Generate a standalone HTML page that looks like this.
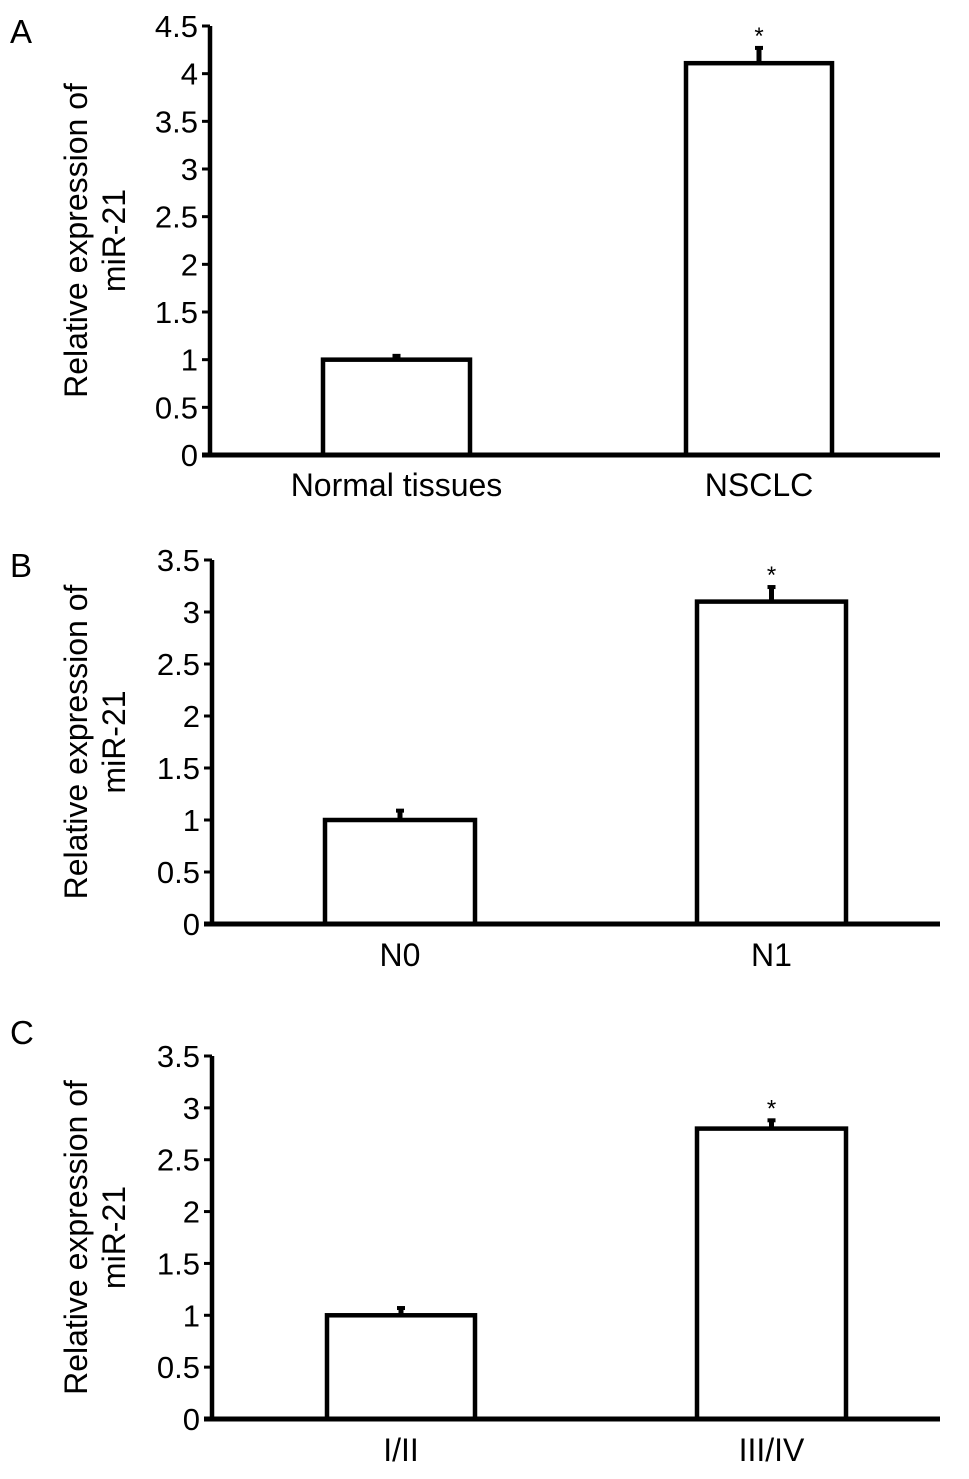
<!DOCTYPE html>
<html><head><meta charset="utf-8"><style>
body{margin:0;background:#fff}
svg{display:block;font-family:"Liberation Sans",Arial,sans-serif}
</style></head><body>
<svg id="fig" width="969" height="1479" viewBox="0 0 969 1479" xmlns="http://www.w3.org/2000/svg"></svg>
<script>
const panelLetters = ["A","B","C"];
const catsA = ["Normal tissues","NSCLC"];
const valsA = [1.0, 4.11];
const errsA = [0.04, 0.16];
const ticksA = [0,0.5,1,1.5,2,2.5,3,3.5,4,4.5];
const catsB = ["N0","N1"];
const valsB = [1.0, 3.1];
const errsB = [0.09, 0.14];
const ticksB = [0,0.5,1,1.5,2,2.5,3,3.5];
const catsC = ["I/II","III/IV"];
const valsC = [1.0, 2.8];
const errsC = [0.07, 0.08];
const ticksC = [0,0.5,1,1.5,2,2.5,3,3.5];

const NS="http://www.w3.org/2000/svg";
const svg=document.getElementById('fig');
function mk(tag,attrs,parent){const e=document.createElementNS(NS,tag);for(const k in attrs)e.setAttribute(k,attrs[k]);(parent||svg).appendChild(e);return e;}

const layouts=[
 {y0:455,yTop:26,max:4.5,axX:210,xEnd:940,bars:[[323,470],[686,832]],letterY:43,labY:496},
 {y0:924,yTop:560,max:3.5,axX:212,xEnd:940,bars:[[325,475],[697,846]],letterY:577,labY:966},
 {y0:1419,yTop:1056,max:3.5,axX:212,xEnd:940,bars:[[327,475],[697,846]],letterY:1044,labY:1461}
];
const data=[[catsA,valsA,errsA,ticksA],[catsB,valsB,errsB,ticksB],[catsC,valsC,errsC,ticksC]];

data.forEach((d,p)=>{
 const [cats,vals,errs,ticks]=d; const L=layouts[p];
 const g=mk('g',{});
 
 
 const y=v=>L.y0-(v/L.max)*(L.y0-L.yTop);
 const lt=mk('text',{x:10,y:L.letterY,'font-size':33},g);
 lt.textContent=panelLetters[p];
 
 
 const yt=mk('text',{transform:`translate(87,${(L.y0+L.yTop)/2}) rotate(-90)`,'font-size':32,'text-anchor':'middle'},g);
 
 
 const t1=mk('tspan',{x:0,dy:0},yt);t1.textContent='Relative expression of';
 const t2=mk('tspan',{x:0,dy:38},yt);t2.textContent='miR-21';
 vals.forEach((v,i)=>{
  const [x1,x2]=L.bars[i]; const cx=(x1+x2)/2;
  const eb=mk('line',{x1:cx,x2:cx,y1:y(v),y2:y(v+errs[i]),stroke:'#000','stroke-width':5},g);
  
  
  const ec=mk('line',{x1:cx-4,x2:cx+4,y1:y(v+errs[i]),y2:y(v+errs[i]),stroke:'#000','stroke-width':4},g);
  
  
  const r=mk('rect',{x:x1,y:y(v),width:x2-x1,height:L.y0-y(v),fill:'#fff',stroke:'#000','stroke-width':4.5},g);
  
  
  if(i===1){const s=mk('text',{x:cx,y:y(v+errs[i])-4,'font-size':24,'text-anchor':'middle'},g);s.textContent='*';
   
   }
  const xl=mk('text',{x:cx,y:L.labY,'font-size':32,'text-anchor':'middle'},g);xl.textContent=cats[i];
  
  
 });
 const ya=mk('line',{x1:L.axX,x2:L.axX,y1:L.yTop,y2:L.y0+2,stroke:'#000','stroke-width':4.5},g);
 
 
 const xa=mk('line',{x1:L.axX-8,x2:L.xEnd,y1:L.y0,y2:L.y0,stroke:'#000','stroke-width':5},g);
 
 
 ticks.forEach(t=>{
  const tk=mk('line',{x1:L.axX-8,x2:L.axX,y1:y(t),y2:y(t),stroke:'#000','stroke-width':3},g);
  
  
  const tl=mk('text',{x:L.axX-12,y:y(t)+11,'font-size':31,'text-anchor':'end'},g);tl.textContent=String(t);
  
  
 });
});
</script>
</body></html>
